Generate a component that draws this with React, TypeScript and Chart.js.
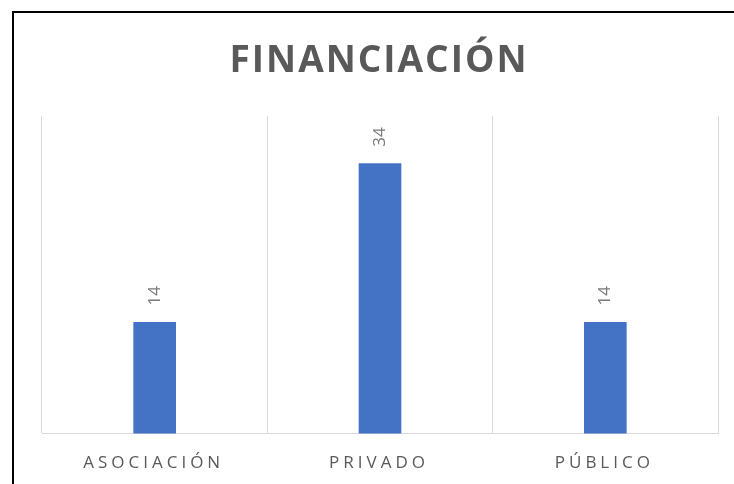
import React, { useEffect, useRef } from "react";
import { Chart, registerables } from "chart.js";

Chart.register(...registerables);

const TITLE = "FINANCIACIÓN";
const categories = ["ASOCIACIÓN", "PRIVADO", "PÚBLICO"];
const values = [14, 34, 14];
const Y_MAX = 40;

const FONT = "'Open Sans', 'Noto Sans', sans-serif";

export default function App() {
  const canvasRef = useRef<HTMLCanvasElement | null>(null);

  useEffect(() => {
    document.body.style.margin = "0";
    const canvas = canvasRef.current;
    if (!canvas) return;

    const textPlugin = {
      id: "customText",
      beforeDraw(chart: any) {
        (chart.ctx as any).letterSpacing = "4px";
      },
      afterDatasetsDraw(chart: any) {
        const ctx = chart.ctx;
        const meta = chart.getDatasetMeta(0);
        ctx.save();
        (ctx as any).letterSpacing = "0px";
        ctx.fillStyle = "#7a7a7a";
        ctx.font = `17px ${FONT}`;
        meta.data.forEach((bar: any, i: number) => {
          ctx.save();
          ctx.translate(bar.x, bar.y - 17);
          ctx.rotate(-Math.PI / 2);
          ctx.textAlign = "left";
          ctx.textBaseline = "middle";
          ctx.fillText(String(values[i]), 0, 0);
          ctx.restore();
        });
        ctx.restore();
      },
      afterDraw(chart: any) {
        const ctx = chart.ctx;
        const area = chart.chartArea;
        ctx.save();
        (ctx as any).letterSpacing = "2px";
        ctx.fillStyle = "#595959";
        ctx.font = `bold 37px ${FONT}`;
        ctx.textAlign = "center";
        ctx.textBaseline = "alphabetic";
        ctx.fillText(TITLE, (area.left + area.right) / 2 - 1, 72);
        ctx.restore();
      },
    };

    const chart = new Chart(canvas, {
      type: "bar",
      data: {
        labels: categories,
        datasets: [
          {
            data: values,
            backgroundColor: "#4472C4",
            borderWidth: 0,
            barThickness: 42,
          },
        ],
      },
      options: {
        animation: false,
        responsive: false,
        devicePixelRatio: 1,
        layout: { padding: { left: 42, right: 16, top: 116, bottom: -8 } },
        plugins: {
          legend: { display: false },
          title: { display: false },
          tooltip: { enabled: false },
        },
        scales: {
          x: {
            grid: {
              display: true,
              offset: true,
              color: "#d9d9d9",
              lineWidth: 1,
              drawTicks: false,
            },
            border: { display: true, color: "#d9d9d9", width: 1 },
            ticks: {
              color: "#595959",
              font: { family: FONT, size: 17 },
              padding: 19,
              labelOffset: -1,
              maxRotation: 0,
              autoSkip: false,
            },
          },
          y: {
            display: false,
            min: 0,
            max: Y_MAX,
            grid: { display: false },
          },
        },
      },
      plugins: [textPlugin],
    });

    return () => chart.destroy();
  }, []);

  return (
    <div style={{ position: "relative", width: 734, height: 484, background: "#fff", overflow: "hidden" }}>
      <canvas ref={canvasRef} width={734} height={484} style={{ position: "absolute", left: 0, top: 0 }} />
      <div
        style={{
          position: "absolute",
          left: 12,
          top: 11,
          width: 740,
          height: 500,
          borderLeft: "2px solid #000",
          borderTop: "2px solid #000",
          pointerEvents: "none",
        }}
      />
    </div>
  );
}
